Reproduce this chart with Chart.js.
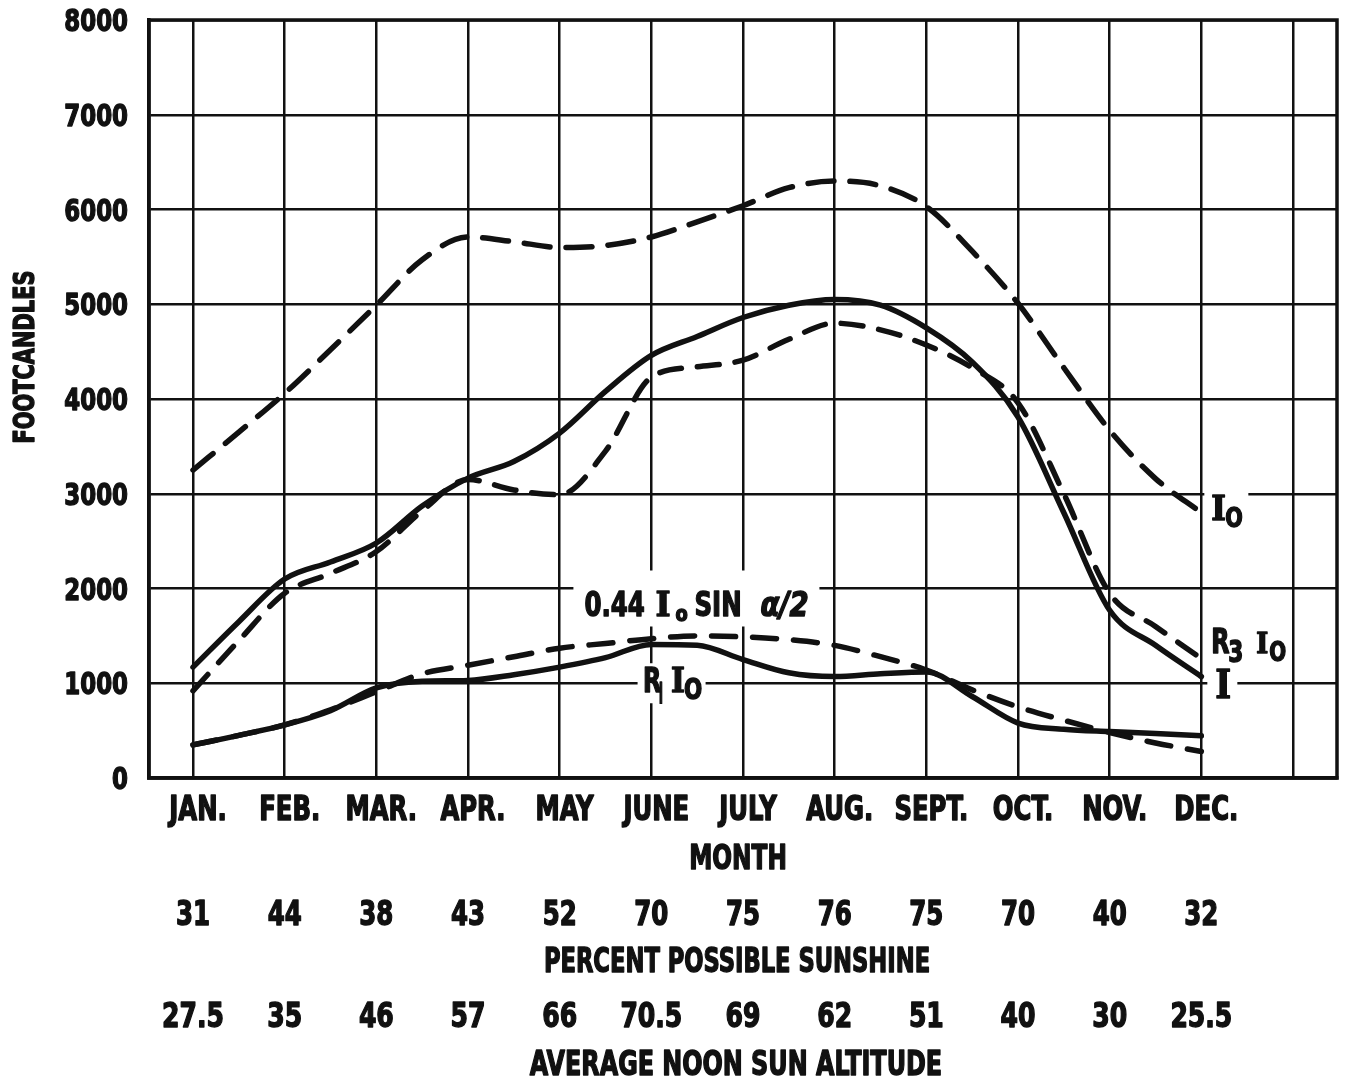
<!DOCTYPE html>
<html>
<head>
<meta charset="utf-8">
<script src="https://cdn.jsdelivr.net/npm/chart.js@4/dist/chart.umd.min.js"></script>
<style>
  html, body { margin: 0; padding: 0; background: #ffffff; }
  #wrap { width: 1345px; height: 1080px; }
</style>
</head>
<body>
<div id="wrap"><canvas id="chart" width="1345" height="1080"></canvas></div>
<script>
// Month names along the horizontal axis
const months = ['JAN.', 'FEB.', 'MAR.', 'APR.', 'MAY', 'JUNE', 'JULY', 'AUG.', 'SEPT.', 'OCT.', 'NOV.', 'DEC.'];
// Secondary rows printed under each month
const sunshinePct = ['31', '44', '38', '43', '52', '70', '75', '76', '75', '70', '40', '32'];
const noonAltitude = ['27.5', '35', '46', '57', '66', '70.5', '69', '62', '51', '40', '30', '25.5'];
// Vertical axis ticks (footcandles)
const yTicks = [0, 1000, 2000, 3000, 4000, 5000, 6000, 7000, 8000];

// Sample positions in month units (0 = Jan, 11 = Dec), read at half-month steps
const samplePos = [0, 0.5, 1, 1.5, 2, 2.5, 3, 3.5, 4, 4.5, 5, 5.5, 6, 6.5, 7, 7.5, 8, 8.5, 9, 9.5, 10, 10.5, 11];
// Io : outdoor illumination
const io = [3250, 3650, 4060, 4520, 4990, 5470, 5710, 5660, 5600, 5620, 5710, 5870, 6040, 6230, 6300, 6250, 6030, 5560, 5010, 4330, 3670, 3160, 2800];
// I : measured illumination
const illum = [1170, 1650, 2100, 2280, 2480, 2870, 3165, 3340, 3640, 4080, 4460, 4660, 4860, 4990, 5050, 4990, 4750, 4390, 3810, 2800, 1770, 1400, 1070];
// R3 Io
const r3io = [920, 1450, 1950, 2160, 2390, 2820, 3150, 3040, 2990, 3450, 4230, 4340, 4410, 4630, 4800, 4730, 4570, 4330, 3960, 3000, 1950, 1600, 1260];
// 0.44 Io sin(alpha/2)
const skyTerm = [350, 450, 560, 720, 910, 1100, 1190, 1280, 1370, 1420, 1470, 1500, 1490, 1460, 1400, 1280, 1140, 930, 750, 610, 480, 370, 280];
// R1 Io
const r1io = [350, 450, 560, 710, 950, 1020, 1030, 1090, 1170, 1270, 1410, 1400, 1250, 1110, 1070, 1100, 1120, 860, 580, 515, 490, 470, 445];

const INK = '#111111';
const SANS = '"DejaVu Sans Condensed", "DejaVu Sans", sans-serif';
const SERIF = '"DejaVu Serif", "Liberation Serif", serif';

function pts(values) {
  return samplePos.map((x, i) => ({ x: x, y: values[i] }));
}

function curve(label, values, dash) {
  return {
    label: label,
    data: pts(values),
    borderColor: INK,
    borderWidth: 5.5,
    borderDash: dash,
    borderCapStyle: 'round',
    borderJoinStyle: 'round',
    pointRadius: 0,
    fill: false,
    cubicInterpolationMode: 'monotone'
  };
}

// heavy narrow lettering: the face is squeezed horizontally by sx and thickened by an outline
function cond(ctx, txt, x, y, size, sx, align, family, style) {
  ctx.save();
  ctx.font = (style || 'bold') + ' ' + size + 'px ' + (family || SANS);
  ctx.textAlign = align || 'center';
  ctx.translate(x, y);
  ctx.scale(sx, 1);
  ctx.fillText(txt, 0, 0);
  ctx.lineWidth = 1.4;
  ctx.lineJoin = 'round';
  ctx.strokeStyle = INK;
  ctx.strokeText(txt, 0, 0);
  ctx.restore();
}

// Frame, knock-outs behind the curve labels, axis lettering and the rows under the months
const decorations = {
  id: 'decorations',
  beforeDatasetsDraw(chart) {
    const ctx = chart.ctx;
    const xs = chart.scales.x;
    const ys = chart.scales.y;
    const a = chart.chartArea;
    ctx.save();

    // frame round the plotting area
    ctx.strokeStyle = INK;
    ctx.lineWidth = 3.5;
    ctx.strokeRect(a.left, a.top, a.right - a.left, a.bottom - a.top);

    // white patches that interrupt the grid under the curve labels
    const dec = xs.getPixelForValue(11);
    ctx.fillStyle = '#ffffff';
    ctx.fillRect(dec + 3, ys.getPixelForValue(3000) - 14, 44, 40);
    ctx.fillRect(dec + 6, ys.getPixelForValue(1000) - 16, 30, 34);
    ctx.fillRect(xs.getPixelForValue(4.15), ys.getPixelForValue(2000) - 18, 246, 56);
    ctx.fillRect(xs.getPixelForValue(4.85), ys.getPixelForValue(1000) - 20, 68, 40);

    ctx.fillStyle = INK;
    ctx.textBaseline = 'alphabetic';

    // tick labels of the vertical axis
    ys.ticks.forEach((t) => {
      cond(ctx, String(t.value), a.left - 21, ys.getPixelForValue(t.value) + 11, 31, 0.82, 'right');
    });
    // month names under the horizontal axis
    xs.ticks.forEach((t) => {
      const m = months[t.value];
      if (m) cond(ctx, m, xs.getPixelForValue(t.value) + 5, 820, 33, 0.82, 'center');
    });

    // Io label at the end of the top curve
    const y0 = ys.getPixelForValue(3000);
    cond(ctx, 'I', dec + 10, y0 + 26, 33, 0.95, 'left', SERIF);
    cond(ctx, 'O', dec + 24, y0 + 33, 27, 0.85, 'left');

    // R3 Io label
    const y1 = ys.getPixelForValue(1000);
    cond(ctx, 'R', dec + 10, y1 - 30, 33, 0.8, 'left');
    cond(ctx, '3', dec + 27, y1 - 21, 30, 0.8, 'left');
    cond(ctx, 'I', dec + 55, y1 - 30, 27, 0.95, 'left', SERIF);
    cond(ctx, 'O', dec + 68, y1 - 22, 26, 0.85, 'left');

    // I label
    cond(ctx, 'I', dec + 14, y1 + 15, 40, 0.85, 'left', SERIF);

    // 0.44 Io SIN a/2
    const y2 = ys.getPixelForValue(2000) + 27;
    const xl = xs.getPixelForValue(4.27);
    cond(ctx, '0.44', xl, y2, 34, 0.8, 'left');
    cond(ctx, 'I', xl + 71, y2, 34, 0.95, 'left', SERIF);
    cond(ctx, 'o', xl + 91, y2 + 5, 22, 0.9, 'left');
    cond(ctx, 'SIN', xl + 110, y2, 34, 0.8, 'left');
    cond(ctx, '\u03B1/2', xl + 176, y2, 34, 0.9, 'left', SANS, 'italic bold');

    // R1 Io
    const xr = xs.getPixelForValue(4.91);
    cond(ctx, 'R', xr, y1 + 9, 33, 0.8, 'left');
    cond(ctx, '|', xr + 15, y1 + 15, 22, 0.8, 'left');
    cond(ctx, 'I', xr + 28, y1 + 9, 33, 0.9, 'left', SERIF);
    cond(ctx, 'O', xr + 41, y1 + 16, 28, 0.85, 'left');

    // axis titles and the rows under the month names
    const mid = (a.left + a.right) / 2 - 6;
    cond(ctx, 'MONTH', mid + 1, 869, 34, 0.76, 'center');
    cond(ctx, 'PERCENT POSSIBLE SUNSHINE', mid, 972, 34, 0.74, 'center');
    cond(ctx, 'AVERAGE NOON SUN ALTITUDE', mid - 1, 1075, 34, 0.78, 'center');
    sunshinePct.forEach((t, i) => cond(ctx, t, xs.getPixelForValue(i), 925, 34, 0.8, 'center'));
    noonAltitude.forEach((t, i) => cond(ctx, t, xs.getPixelForValue(i), 1027, 34, 0.82, 'center'));

    // vertical axis title
    ctx.save();
    ctx.translate(34, 357);
    ctx.rotate(-Math.PI / 2);
    cond(ctx, 'FOOTCANDLES', 0, 0, 29, 0.8, 'center');
    ctx.restore();

    ctx.restore();
  }
};

new Chart(document.getElementById('chart'), {
  type: 'line',
  data: {
    datasets: [
      curve('Io', io, [26, 16]),
      curve('R3 Io', r3io, [22, 16]),
      curve('I', illum, []),
      curve('0.44 Io sin a/2', skyTerm, [24, 17]),
      curve('R1 Io', r1io, [])
    ]
  },
  plugins: [decorations],
  options: {
    responsive: false,
    devicePixelRatio: 1,
    animation: false,
    layout: { padding: { top: 20, right: 8, left: 0, bottom: 0 } },
    plugins: { legend: { display: false }, tooltip: { enabled: false } },
    scales: {
      x: {
        type: 'linear',
        min: -0.48,
        max: 12.48,
        afterBuildTicks: (s) => { s.ticks = months.map((m, i) => ({ value: i })).concat([{ value: 12 }]); },
        afterFit: (s) => { s.height = 302; },
        ticks: { display: false },
        grid: { color: INK, lineWidth: 2.5, drawTicks: false },
        border: { color: INK, width: 3.5 }
      },
      y: {
        min: 0,
        max: 8000,
        afterBuildTicks: (s) => { s.ticks = yTicks.map((v) => ({ value: v })); },
        afterFit: (s) => { s.width = 149; },
        ticks: { display: false },
        grid: { color: INK, lineWidth: 2.5, drawTicks: false },
        border: { color: INK, width: 3.5 }
      }
    }
  }
});
</script>
</body>
</html>
